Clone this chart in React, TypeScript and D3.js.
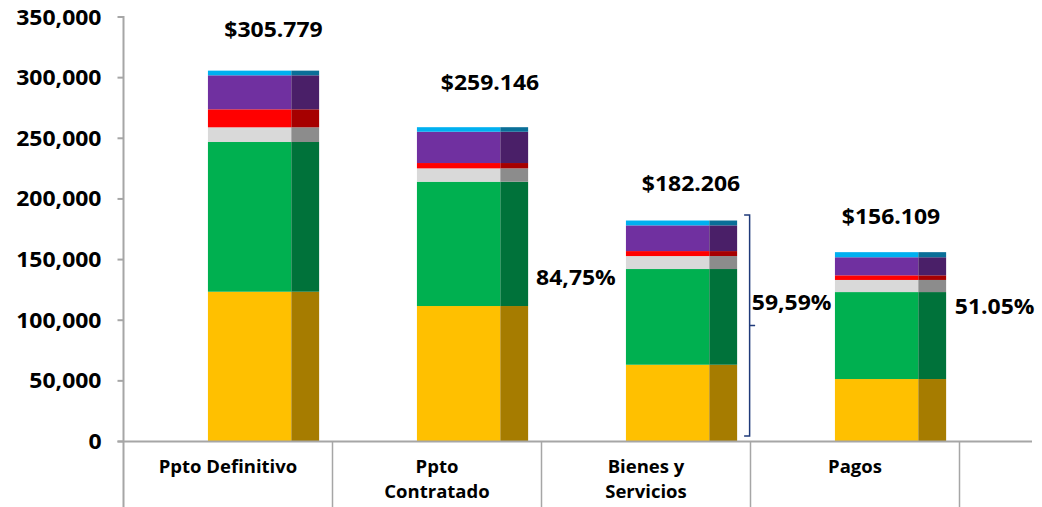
import React from "react";
import * as d3 from "d3";

// ---- data ----
const categories = ["Ppto Definitivo", "Ppto Contratado", "Bienes y Servicios", "Pagos"];
const categoryLines = [["Ppto Definitivo"], ["Ppto", "Contratado"], ["Bienes y", "Servicios"], ["Pagos"]];
const seriesNames = ["s1", "s2", "s3", "s4", "s5", "s6"];
const s1 = [123500, 111700, 63300, 51500];
const s2 = [123430, 102500, 78900, 71700];
const s3 = [12120, 11000, 10700, 10000];
const s4 = [14840, 4400, 4100, 3800];
const s5 = [28030, 25800, 21200, 14900];
const s6 = [3859, 3746, 4006, 4209];
const totalLabels = ["$305.779", "$259.146", "$182.206", "$156.109"];
const percentLabels = ["84,75%", "59,59%", "51.05%"];
const yTicks = [0, 50000, 100000, 150000, 200000, 250000, 300000, 350000];

// ---- style ----
const lightColors = ["#FFC000", "#00B050", "#D9D9D9", "#FF0000", "#7030A0", "#00B0F0"];
const darkColors = ["#A67C00", "#00723A", "#8C8C8C", "#A60000", "#4A1F68", "#0A6F98"];
const FONT = "'Open Sans', 'Noto Sans', sans-serif";
const SX = 1.12;

const W = 1042;
const H = 507;
const left = 123.5;
const bandW = 209;
const y0 = 441.5;
const yTop = 17;

const labelNudge = [
  { dx: 10, dy: -34 },
  { dx: 17.5, dy: -37 },
  { dx: 9.5, dy: -30 },
  { dx: 0.5, dy: -28 },
];

function SText({ x, y, children, anchor = "middle", sx = SX, size = 20.5 }: any) {
  return (
    <text
      transform={`translate(${x},${y}) scale(${sx},1)`}
      textAnchor={anchor}
      fontFamily={FONT}
      fontWeight="bold"
      fontSize={size}
      fill="#000"
    >
      {children}
    </text>
  );
}

export default function App() {
  const x = d3.scaleBand<string>().domain(categories).range([left, left + bandW * categories.length]).padding(0);
  const y = d3.scaleLinear().domain([0, 350000]).range([y0, yTop]);

  const rows = categories.map((c, i) => {
    const r: any = { cat: c };
    [s1, s2, s3, s4, s5, s6].forEach((s, k) => (r[seriesNames[k]] = s[i]));
    return r;
  });
  const stacked = d3.stack().keys(seriesNames)(rows);

  const bw = x.bandwidth();
  const barX = (c: string) => (x(c) as number) + bw * 0.404;
  const barW = bw * 0.532;
  const darkFrac = 0.25;

  const totals = categories.map((_, i) => s1[i] + s2[i] + s3[i] + s4[i] + s5[i] + s6[i]);

  const axisColor = "#A6A6A6";
  const bar3 = categories[2];
  const bar4 = categories[3];
  const braceX = barX(bar3) + barW + 12.5;
  const braceTop = y(totals[2]) - 5.5;
  const braceBot = y(0) - 5.5;
  const braceMid = (braceTop + braceBot) / 2;

  return (
    <svg width={W} height={H} style={{ position: "absolute", left: 0, top: 0, background: "#fff" }}>
      {/* bars */}
      {stacked.map((layer, k) =>
        layer.map((d, i) => {
          const c = categories[i];
          const bx = barX(c);
          const yT = y(d[1]);
          const yB = y(d[0]);
          return (
            <g key={`${k}-${i}`}>
              <rect x={bx} y={yT} width={barW * (1 - darkFrac)} height={yB - yT} fill={lightColors[k]} />
              <rect x={bx + barW * (1 - darkFrac)} y={yT} width={barW * darkFrac} height={yB - yT} fill={darkColors[k]} />
            </g>
          );
        })
      )}

      {/* y axis */}
      <line x1={left} x2={left} y1={yTop - 1} y2={H} stroke={axisColor} strokeWidth={2} />
      {yTicks.map((t) => (
        <g key={t}>
          <line x1={left - 6} x2={left} y1={y(t)} y2={y(t)} stroke={axisColor} strokeWidth={2} />
          <SText x={left - 22} y={y(t) + 7.5} anchor="end">
            {d3.format(",")(t)}
          </SText>
        </g>
      ))}

      {/* x axis */}
      <line x1={left - 6} x2={1032} y1={y0} y2={y0} stroke={axisColor} strokeWidth={2} />
      {categories.map((c) => (
        <line key={c} x1={(x(c) as number) + bw} x2={(x(c) as number) + bw} y1={y0} y2={H} stroke={axisColor} strokeWidth={1.5} />
      ))}
      {categories.map((c, i) => (
        <text
          key={c}
          x={(x(c) as number) + bw / 2}
          y={473}
          textAnchor="middle"
          fontFamily={FONT}
          fontWeight="bold"
          fontSize={18.5}
          fill="#000"
        >
          {categoryLines[i].map((ln, j) => (
            <tspan key={j} x={(x(c) as number) + bw / 2} dy={j === 0 ? 0 : 24.5}>
              {ln}
            </tspan>
          ))}
        </text>
      ))}

      {/* totals */}
      {categories.map((c, i) => (
        <SText key={c} x={barX(c) + barW / 2 + labelNudge[i].dx} y={y(totals[i]) + labelNudge[i].dy}>
          {totalLabels[i]}
        </SText>
      ))}

      {/* brace */}
      <path
        d={`M${braceX - 5.5},${braceTop} H${braceX} V${braceBot} H${braceX - 5.5} M${braceX},${braceMid} H${braceX + 5.5}`}
        fill="none"
        stroke="#1F3A7A"
        strokeWidth={1.5}
      />

      {/* percentages */}
      <SText x={barX(bar3) - 50} y={285}>{percentLabels[0]}</SText>
      <SText x={braceX + 42} y={310}>{percentLabels[1]}</SText>
      <SText x={barX(bar4) + barW + 48.5} y={314}>{percentLabels[2]}</SText>
    </svg>
  );
}
